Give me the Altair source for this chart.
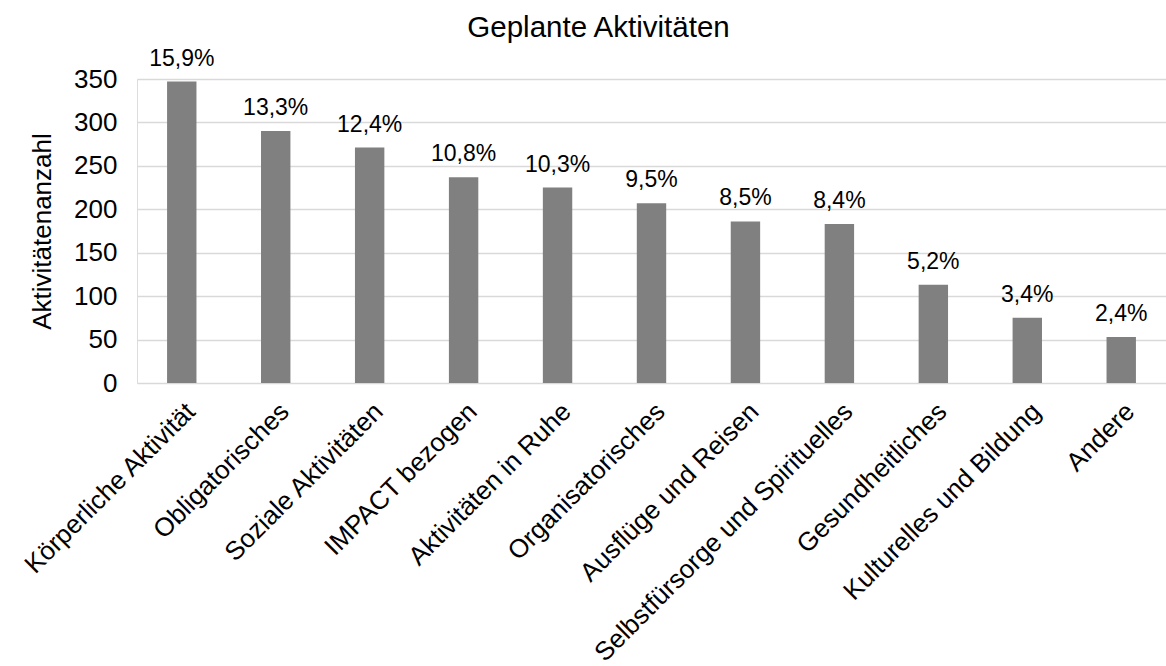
import altair as alt
import pandas as pd

categories = [
    "Körperliche Aktivität", "Obligatorisches", "Soziale Aktivitäten",
    "IMPACT bezogen", "Aktivitäten in Ruhe", "Organisatorisches",
    "Ausflüge und Reisen", "Selbstfürsorge und Spirituelles",
    "Gesundheitliches", "Kulturelles und Bildung", "Andere",
]
counts = [347, 290, 271, 237, 225, 207, 186, 183, 113, 75, 53]
percent_labels = ["15,9%", "13,3%", "12,4%", "10,8%", "10,3%", "9,5%",
                  "8,5%", "8,4%", "5,2%", "3,4%", "2,4%"]
y_ticks = [0, 50, 100, 150, 200, 250, 300, 350]

df = pd.DataFrame({"cat": categories, "n": counts, "lbl": percent_labels})

FONT = "Liberation Sans"

x = alt.X("cat:N", sort=categories, title=None,
          scale=alt.Scale(paddingInner=0.687, paddingOuter=0.32),
          axis=alt.Axis(labelAngle=-45, labelAlign="right", labelBaseline="top",
                        labelFontSize=26, labelFont=FONT, labelColor="#000000",
                        labelPadding=15, ticks=False, domain=False, labelLimit=500))
y = alt.Y("n:Q", title="Aktivitätenanzahl",
          scale=alt.Scale(domain=[0, 350], nice=False),
          axis=alt.Axis(values=y_ticks, labelFontSize=26, labelFont=FONT,
                        labelColor="#000000", ticks=False, domain=False,
                        labelPadding=20, titleFontSize=26, titleFont=FONT,
                        titleColor="#000000", titleFontWeight="normal",
                        titlePadding=18, gridColor="#d9d9d9", gridWidth=1.5))

bars = alt.Chart(df).mark_bar(color="#808080").encode(x=x, y=y)
text = alt.Chart(df).mark_text(baseline="alphabetic", dy=-16, fontSize=23,
                               font=FONT, color="#000000").encode(
    x=alt.X("cat:N", sort=categories), y="n:Q", text="lbl:N")

chart = (bars + text).properties(
    width=1029, height=304,
    title=alt.TitleParams("Geplante Aktivitäten", fontSize=29.5, font=FONT,
                          fontWeight="normal", color="#000000",
                          frame="group", anchor="middle", offset=4, dx=-53),
    autosize=alt.AutoSizeParams(type="none"),
    padding={"left": 137, "top": 79, "right": 0, "bottom": 283},
).configure_view(stroke=None).configure(background="white")

chart.save("out.html", embed_options={"renderer": "svg", "actions": False})
